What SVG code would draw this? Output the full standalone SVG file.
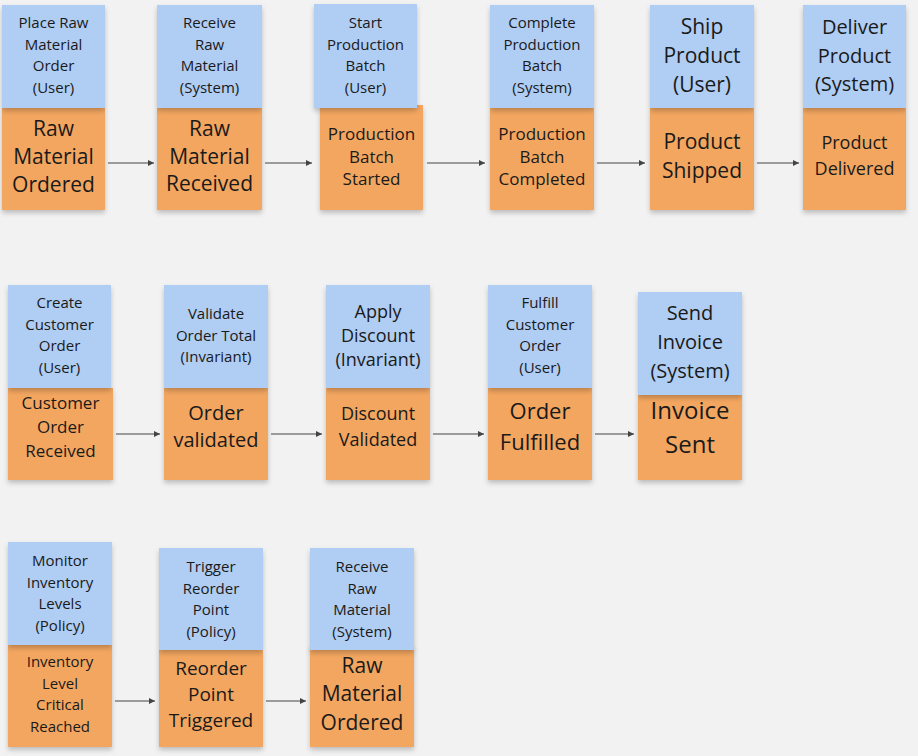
<svg xmlns="http://www.w3.org/2000/svg" width="918" height="756" viewBox="0 0 918 756">
<defs>
<filter id="sh" x="-10%" y="-10%" width="120%" height="130%"><feDropShadow dx="0" dy="3" stdDeviation="2.5" flood-color="#000" flood-opacity="0.22"/></filter>
<marker id="ar" markerWidth="8" markerHeight="8" refX="6" refY="3" orient="auto" markerUnits="userSpaceOnUse"><path d="M0,0 L6,3 L0,6 Z" fill="#444"/></marker>
</defs>
<style>
.b{fill:#b0cdf3;filter:url(#sh)}
.o{fill:#f3a660;filter:url(#sh)}
text{font-family:"Open Sans","Noto Sans",sans-serif;fill:#1a1a1a;text-anchor:middle}
.s{font-size:15px}.m{font-size:17px}.l{font-size:21px}
.c line{stroke:#444;stroke-width:1;marker-end:url(#ar)}
</style>
<rect width="918" height="756" fill="#f2f2f2"/>
<g class="c">
<line x1="108" y1="163" x2="154" y2="163"/><line x1="265" y1="163" x2="312" y2="163"/><line x1="427" y1="163" x2="485" y2="163"/><line x1="597" y1="163" x2="645" y2="163"/><line x1="757" y1="163" x2="799" y2="163"/>
<line x1="116" y1="434" x2="160" y2="434"/><line x1="271" y1="434" x2="322" y2="434"/><line x1="433" y1="434" x2="484" y2="434"/><line x1="595" y1="434" x2="634" y2="434"/>
<line x1="115" y1="701" x2="155" y2="701"/><line x1="266" y1="701" x2="306" y2="701"/>
</g>
<g id="n1"><rect class="o" x="2" y="108" width="103" height="102"/><rect class="b" x="2" y="5" width="103" height="103"/>
<text class="s" x="53.5"><tspan x="53.5" y="28">Place Raw</tspan><tspan x="53.5" y="50">Material</tspan><tspan x="53.5" y="71">Order</tspan><tspan x="53.5" y="93">(User)</tspan></text>
<text class="l"><tspan x="53.5" y="136">Raw</tspan><tspan x="53.5" y="164">Material</tspan><tspan x="53.5" y="192">Ordered</tspan></text></g>
<g id="n2"><rect class="o" x="157" y="108" width="105" height="102"/><rect class="b" x="157" y="5" width="105" height="103"/>
<text class="s"><tspan x="209.5" y="28">Receive</tspan><tspan x="209.5" y="50">Raw</tspan><tspan x="209.5" y="71">Material</tspan><tspan x="209.5" y="93">(System)</tspan></text>
<text class="l"><tspan x="209.5" y="136">Raw</tspan><tspan x="209.5" y="164">Material</tspan><tspan x="209.5" y="191">Received</tspan></text></g>
<g id="n3"><rect class="o" x="320" y="105" width="103" height="105"/><rect class="b" x="314" y="4" width="103" height="104"/>
<text class="s"><tspan x="365.5" y="28">Start</tspan><tspan x="365.5" y="50">Production</tspan><tspan x="365.5" y="71">Batch</tspan><tspan x="365.5" y="93">(User)</tspan></text>
<text class="m"><tspan x="371.5" y="140">Production</tspan><tspan x="371.5" y="163">Batch</tspan><tspan x="371.5" y="185">Started</tspan></text></g>
<g id="n4"><rect class="o" x="490" y="108" width="104" height="102"/><rect class="b" x="490" y="5" width="104" height="103"/>
<text class="s"><tspan x="542" y="28">Complete</tspan><tspan x="542" y="50">Production</tspan><tspan x="542" y="71">Batch</tspan><tspan x="542" y="93">(System)</tspan></text>
<text class="m"><tspan x="542" y="140">Production</tspan><tspan x="542" y="163">Batch</tspan><tspan x="542" y="185">Completed</tspan></text></g>
<g id="n5"><rect class="o" x="650" y="108" width="104" height="102"/><rect class="b" x="650" y="5" width="104" height="103"/>
<text class="l"><tspan x="702" y="34">Ship</tspan><tspan x="702" y="63">Product</tspan><tspan x="702" y="92">(User)</tspan></text>
<text class="l"><tspan x="702" y="149">Product</tspan><tspan x="702" y="178">Shipped</tspan></text></g>
<g id="n6"><rect class="o" x="803" y="108" width="103" height="102"/><rect class="b" x="803" y="5" width="103" height="103"/>
<text class="l" style="font-size:20px"><tspan x="854.5" y="34">Deliver</tspan><tspan x="854.5" y="63">Product</tspan><tspan x="854.5" y="91">(System)</tspan></text>
<text class="m" style="font-size:18px"><tspan x="854.5" y="149">Product</tspan><tspan x="854.5" y="175">Delivered</tspan></text></g>
<g id="n7"><rect class="o" x="8" y="388" width="105" height="92"/><rect class="b" x="8" y="285" width="103" height="103"/>
<text class="s"><tspan x="59.5" y="308">Create</tspan><tspan x="59.5" y="330">Customer</tspan><tspan x="59.5" y="351">Order</tspan><tspan x="59.5" y="373">(User)</tspan></text>
<text class="m"><tspan x="60.5" y="409">Customer</tspan><tspan x="60.5" y="433">Order</tspan><tspan x="60.5" y="457">Received</tspan></text></g>
<g id="n8"><rect class="o" x="164" y="388" width="104" height="92"/><rect class="b" x="164" y="285" width="104" height="103"/>
<text class="s"><tspan x="216" y="319">Validate</tspan><tspan x="216" y="341">Order Total</tspan><tspan x="216" y="362">(Invariant)</tspan></text>
<text class="l" style="font-size:20px"><tspan x="216" y="420">Order</tspan><tspan x="216" y="447">validated</tspan></text></g>
<g id="n9"><rect class="o" x="326" y="388" width="104" height="92"/><rect class="b" x="326" y="285" width="104" height="103"/>
<text class="m" style="font-size:18px"><tspan x="378" y="318">Apply</tspan><tspan x="378" y="342">Discount</tspan><tspan x="378" y="366">(Invariant)</tspan></text>
<text class="m" style="font-size:18px"><tspan x="378" y="420">Discount</tspan><tspan x="378" y="446">Validated</tspan></text></g>
<g id="n10"><rect class="o" x="488" y="388" width="104" height="92"/><rect class="b" x="488" y="285" width="104" height="103"/>
<text class="s"><tspan x="540" y="308">Fulfill</tspan><tspan x="540" y="330">Customer</tspan><tspan x="540" y="351">Order</tspan><tspan x="540" y="373">(User)</tspan></text>
<text class="l" style="font-size:22px"><tspan x="540" y="419">Order</tspan><tspan x="540" y="450">Fulfilled</tspan></text></g>
<g id="n11"><rect class="o" x="638" y="395" width="104" height="85"/><rect class="b" x="638" y="292" width="104" height="103"/>
<text class="l" style="font-size:20px"><tspan x="690" y="320">Send</tspan><tspan x="690" y="349">Invoice</tspan><tspan x="690" y="378">(System)</tspan></text>
<text class="l" style="font-size:24px"><tspan x="690" y="419">Invoice</tspan><tspan x="690" y="453">Sent</tspan></text></g>
<g id="n12"><rect class="o" x="8" y="645" width="104" height="102"/><rect class="b" x="8" y="542" width="104" height="103"/>
<text class="s"><tspan x="60" y="566">Monitor</tspan><tspan x="60" y="588">Inventory</tspan><tspan x="60" y="609">Levels</tspan><tspan x="60" y="631">(Policy)</tspan></text>
<text class="s"><tspan x="60" y="667">Inventory</tspan><tspan x="60" y="689">Level</tspan><tspan x="60" y="710">Critical</tspan><tspan x="60" y="732">Reached</tspan></text></g>
<g id="n13"><rect class="o" x="159" y="650" width="104" height="97"/><rect class="b" x="159" y="548" width="104" height="102"/>
<text class="s"><tspan x="211" y="572">Trigger</tspan><tspan x="211" y="594">Reorder</tspan><tspan x="211" y="615">Point</tspan><tspan x="211" y="637">(Policy)</tspan></text>
<text class="l" style="font-size:19px"><tspan x="211" y="675">Reorder</tspan><tspan x="211" y="701">Point</tspan><tspan x="211" y="727">Triggered</tspan></text></g>
<g id="n14"><rect class="o" x="310" y="645" width="104" height="102"/><rect class="b" x="310" y="548" width="104" height="102"/>
<text class="s"><tspan x="362" y="572">Receive</tspan><tspan x="362" y="594">Raw</tspan><tspan x="362" y="615">Material</tspan><tspan x="362" y="637">(System)</tspan></text>
<text class="l"><tspan x="362" y="673">Raw</tspan><tspan x="362" y="701">Material</tspan><tspan x="362" y="730">Ordered</tspan></text></g>
</svg>
